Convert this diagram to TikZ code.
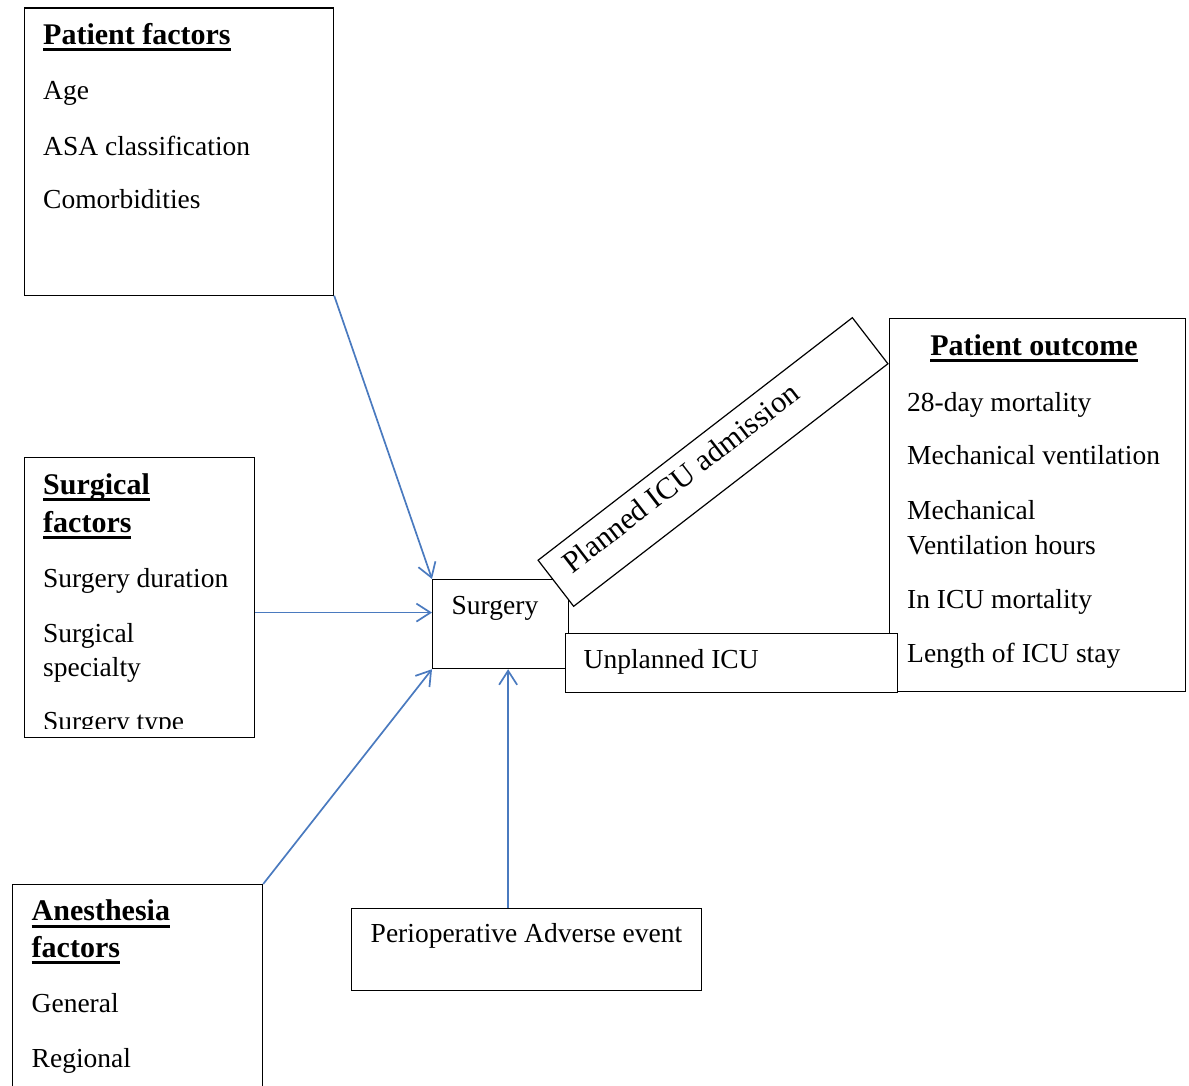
\documentclass[tikz,border=0pt]{standalone}
\usepackage{fontspec}
\setmainfont{Liberation Serif}
\usetikzlibrary{arrows.meta}
\newsavebox{\hdrbox}
\newcommand{\hdr}[1]{\sbox{\hdrbox}{\fontsize{30}{36}\selectfont\textbf{#1}}\rlap{\rule[-7pt]{\wd\hdrbox}{3pt}}\usebox{\hdrbox}}

\begin{document}
\begin{tikzpicture}[x=1pt, y=-1pt,
    box/.style={draw, line width=1.2pt, fill=white, inner sep=0pt, anchor=north west},
    txt/.style={anchor=base west, inner sep=0pt, font=\fontsize{27.5}{33}\selectfont},
    feed/.style={draw=color471, line width=1.7pt, -{Straight Barb[length=14pt, width=18pt]}}]
    \definecolor{color471}{rgb}{0.29,0.48,0.75}
    \useasboundingbox (0,0) rectangle (1189,1086);
    % Patient factors
    \node[box, minimum width=309.5, minimum height=287] (patient) at (23.5,7.5) {};
    \node[txt] (patienthd) at (43,44.5) {\hdr{Patient factors}};
    \node[txt] (age) at (43,100) {Age};
    \node[txt] (asa) at (43,155.5) {ASA classification};
    \node[txt] (comorb) at (43,208.5) {Comorbidities};
    % Surgical factors
    \node[box, minimum width=230, minimum height=280] (surgical) at (24,457) {};
    \node[txt] (surgicalhd) at (43,494) {\hdr{Surgical}};
    \node[txt] (surgicalhdb) at (43,532) {\hdr{factors}};
    \node[txt] (duration) at (43,587) {Surgery duration};
    \node[txt] (specialty) at (43,642) {Surgical};
    \node[txt] (specialtyb) at (43,676.5) {specialty};
    \begin{scope}
        \clip (surgical.north west) rectangle ([yshift=10pt]surgical.south east);
        \node[txt] (stype) at (43,730) {Surgery type};
    \end{scope}
    % Anesthesia factors
    \node[box, minimum width=250, minimum height=230] (anesth) at (12,884) {};
    \node[txt] (anesthhd) at (31.5,920.5) {\hdr{Anesthesia}};
    \node[txt] (anesthhdb) at (31.5,957) {\hdr{factors}};
    \node[txt] (general) at (31.5,1012) {General};
    \node[txt] (regional) at (31.5,1067) {Regional};
    % Perioperative adverse event
    \node[box, minimum width=350, minimum height=81.5] (perio) at (351,908) {};
    \node[txt, anchor=base] (periotx) at (526.5,942.5) {Perioperative Adverse event};
    % Patient outcome
    \node[box, minimum width=296, minimum height=373] (outcome) at (888.5,318) {};
    \node[txt, anchor=base] (outcomehd) at (1034,355) {\hdr{Patient outcome}};
    \node[txt] (mort) at (907,411) {28-day mortality};
    \node[txt] (mv) at (907,464.5) {Mechanical ventilation};
    \node[txt] (mvh) at (907,519) {Mechanical};
    \node[txt] (mvhb) at (907,554) {Ventilation hours};
    \node[txt] (icumort) at (907,608) {In ICU mortality};
    \node[txt] (los) at (907,662) {Length of ICU stay};
    % Surgery and ICU admission
    \node[box, minimum width=136, minimum height=89] (surgery) at (432,579) {};
    \node[txt] (surgerytx) at (451.5,614.5) {Surgery};
    \node[draw, line width=1.2pt, fill=white, inner sep=0pt, rotate=37.66,
        minimum width=397, minimum height=58.2] (planned) at (713,462) {};
    \node[txt, anchor=base west, rotate=37.66, font=\fontsize{30.5}{36}\selectfont] (plannedtx) at (572,574.5) {Planned ICU admission};
    \node[box, minimum width=332, minimum height=58.5] (unplanned) at (565,633) {};
    \node[txt] (unplannedtx) at (583.5,668.5) {Unplanned ICU};
    % Arrows
    \coordinate (surgin) at ([yshift=11.5pt]surgery.west);
    \draw[feed] (surgical.east |- surgin) -- (surgin);
    \draw[feed] (patient.south east) -- (surgery.north west);
    \draw[feed] (anesth.north east) -- (surgery.south west);
    \draw[feed] ([xshift=-18.5pt]perio.north) -- ([xshift=-18.5pt]perio.north |- surgery.south);
\end{tikzpicture}
\end{document}
